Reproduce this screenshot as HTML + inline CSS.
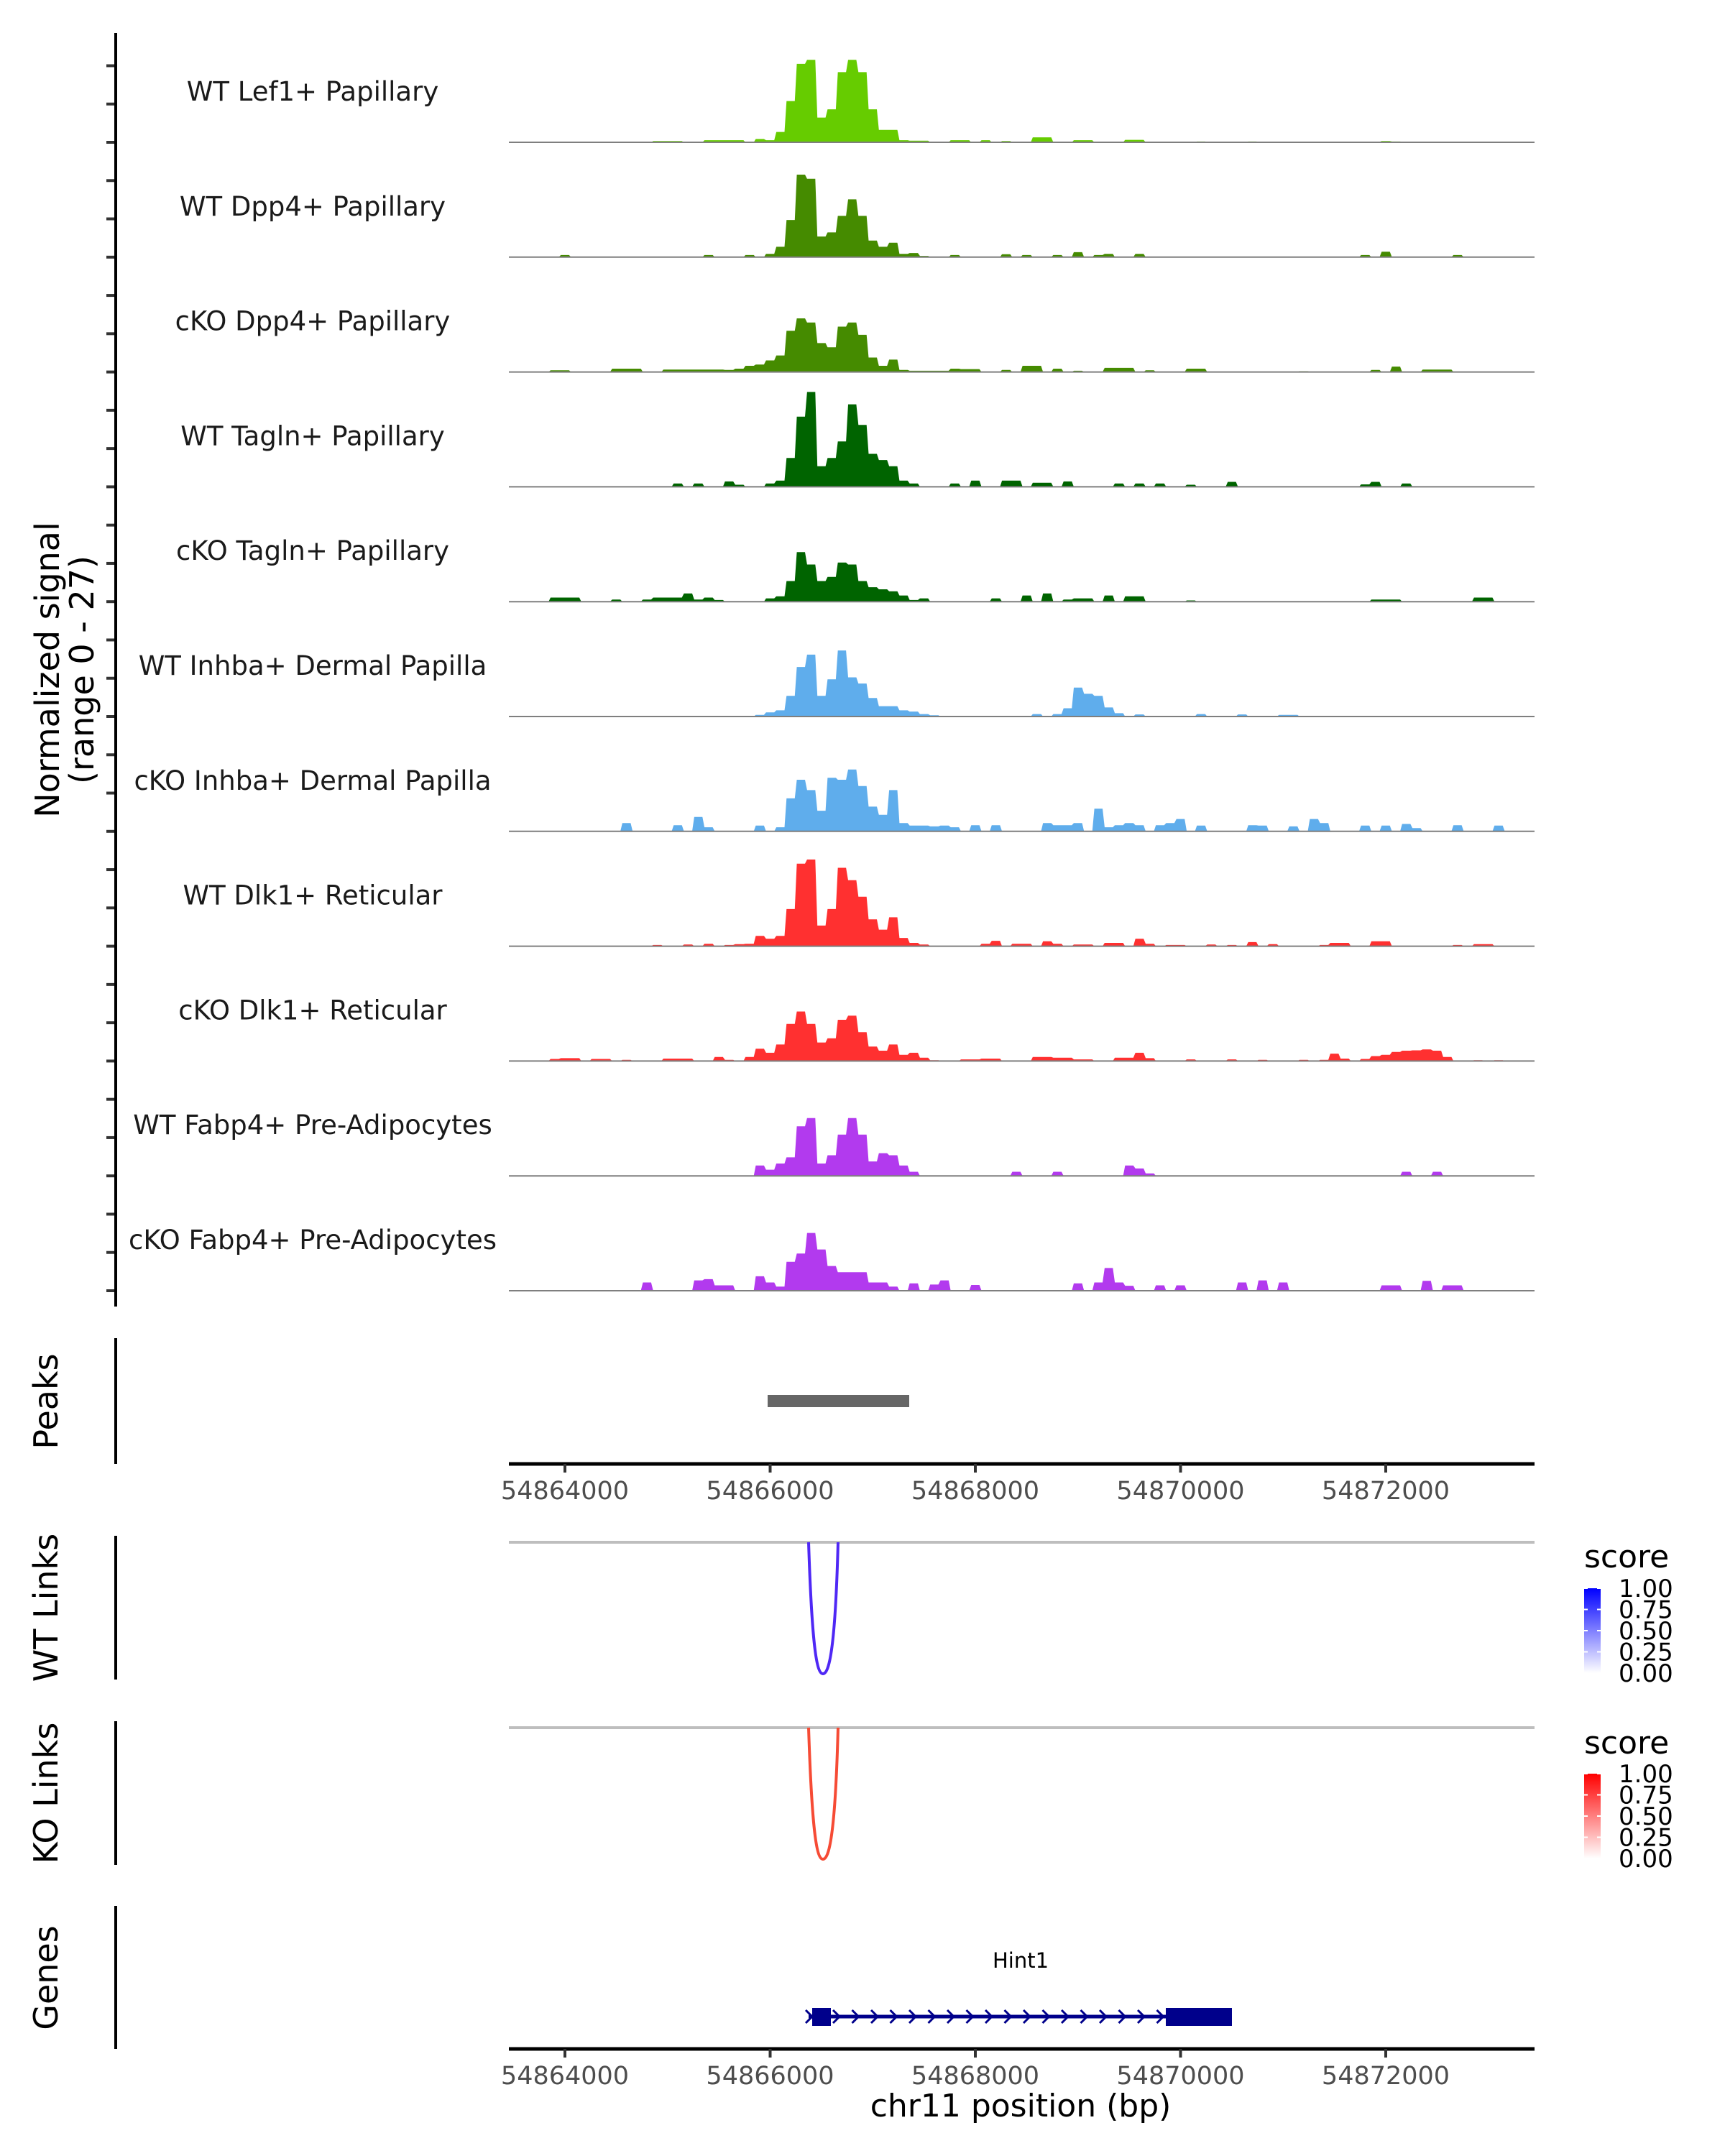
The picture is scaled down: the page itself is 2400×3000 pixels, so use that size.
<!DOCTYPE html>
<html><head><meta charset="utf-8"><style>
html,body{margin:0;padding:0;background:#fff;}
svg{display:block;}
text{font-family:"DejaVu Sans","Liberation Sans",sans-serif;}
</style></head><body>
<svg id="fig" width="2400" height="3000" viewBox="0 0 2400 3000" xmlns="http://www.w3.org/2000/svg">
<defs>
<linearGradient id="gBlue" x1="0" y1="1" x2="0" y2="0"><stop offset="0" stop-color="#ffffff"/><stop offset="1" stop-color="#0000ff"/></linearGradient>
<linearGradient id="gRed" x1="0" y1="1" x2="0" y2="0"><stop offset="0" stop-color="#ffffff"/><stop offset="1" stop-color="#ff0000"/></linearGradient>
</defs>
<g id="tracks"></g>
<g id="static">
  <text transform="translate(82,932) rotate(-90)" text-anchor="middle" font-size="46" fill="#000">Normalized signal</text>
  <text transform="translate(130,932) rotate(-90)" text-anchor="middle" font-size="46" fill="#000">(range 0 - 27)</text>
  <line x1="161" y1="46" x2="161" y2="1818" stroke="#000" stroke-width="4"/>
  <text transform="translate(80,1950) rotate(-90)" text-anchor="middle" font-size="46">Peaks</text>
  <line x1="161" y1="1862" x2="161" y2="2037" stroke="#000" stroke-width="4"/>
  <rect x="1068" y="1941" width="197" height="17" fill="#666"/>
  <text transform="translate(80,2237) rotate(-90)" text-anchor="middle" font-size="46">WT Links</text>
  <line x1="161" y1="2137" x2="161" y2="2337" stroke="#000" stroke-width="4"/>
  <line x1="708" y1="2146" x2="2135" y2="2146" stroke="#bebebe" stroke-width="4"/>
  <path d="M1125,2146 C1130,2300 1137,2329 1145,2329 C1153,2329 1162,2300 1166,2146" fill="none" stroke="#4f28f5" stroke-width="4"/>
  <text x="2204" y="2181" font-size="44">score</text>
  <rect x="2204" y="2210" width="23" height="118" fill="url(#gBlue)"/>
  <text transform="translate(80,2495) rotate(-90)" text-anchor="middle" font-size="46">KO Links</text>
  <line x1="161" y1="2395" x2="161" y2="2595" stroke="#000" stroke-width="4"/>
  <line x1="708" y1="2404" x2="2135" y2="2404" stroke="#bebebe" stroke-width="4"/>
  <path d="M1125,2404 C1130,2558 1137,2587 1145,2587 C1153,2587 1162,2558 1166,2404" fill="none" stroke="#f64b35" stroke-width="4"/>
  <text x="2204" y="2440" font-size="44">score</text>
  <rect x="2204" y="2468" width="23" height="118" fill="url(#gRed)"/>
  <text transform="translate(80,2752) rotate(-90)" text-anchor="middle" font-size="46">Genes</text>
  <line x1="161" y1="2652" x2="161" y2="2851" stroke="#000" stroke-width="4"/>
  <text x="1420" y="2738" text-anchor="middle" font-size="29">Hint1</text>
  <line x1="1125" y1="2806" x2="1714" y2="2806" stroke="#00008b" stroke-width="5"/>
  <rect x="1130" y="2794" width="26" height="25" fill="#00008b"/>
  <rect x="1622" y="2794" width="92" height="25" fill="#00008b"/>
  <g id="chev"></g>
  <text x="1420" y="2945" text-anchor="middle" font-size="44">chr11 position (bp)</text>
</g>
<g id="axes"></g>
<g id="legendlabels"></g>
</svg>
<script>
const binStart = 54863450;
const binSize = 100;
const tickValues = [54864000, 54866000, 54868000, 54870000, 54872000];
const tickLabels = ["54864000", "54866000", "54868000", "54870000", "54872000"];
const legendValues = [1.00, 0.75, 0.50, 0.25, 0.00];
const legendLabels = ["1.00", "0.75", "0.50", "0.25", "0.00"];
const trackNames = ["WT Lef1+ Papillary","WT Dpp4+ Papillary","cKO Dpp4+ Papillary","WT Tagln+ Papillary","cKO Tagln+ Papillary","WT Inhba+ Dermal Papilla","cKO Inhba+ Dermal Papilla","WT Dlk1+ Reticular","cKO Dlk1+ Reticular","WT Fabp4+ Pre-Adipocytes","cKO Fabp4+ Pre-Adipocytes"];
const trackColors = ["#66cc00","#458b00","#458b00","#006400","#006400","#5fadec","#5fadec","#ff3030","#ff3030","#b23aee","#b23aee"];
const lef1WT = [0,0,0,0,0,0.1,0,0,0,0, 0,0,0,0,0.3,0.3,0.3,0,0,0.5, 0.5,0.5,0.5,0,0.8,0.5,2.5,10,19,20, 6,8,17,20,17,8,3,3,0.5,0.4, 0.4,0,0,0.5,0.5,0,0.5,0,0.3,0, 0,1.2,1.2,0,0,0.5,0.5,0,0,0, 0.6,0.6,0,0,0,0,0,0.2,0,0, 0,0,0.2,0,0,0,0,0,0.1,0.1, 0.1,0.1,0.1,0.1,0.1,0.3,0.2,0.1,0.1,0, 0,0,0,0,0,0.1,0,0,0,0];
const dpp4WT = [0,0,0,0,0,0.5,0,0,0,0, 0,0,0,0,0,0,0,0,0,0.5, 0,0,0,0.5,0,0.8,2.5,9,20,19, 5,6,10,14,10,4,2.5,3.5,0.8,1, 0.3,0,0,0.5,0,0,0,0,0.7,0, 0.5,0,0,0.5,0,1.2,0,0.5,0.8,0, 0,0.8,0,0,0,0,0,0,0,0, 0,0,0,0,0,0,0,0,0,0, 0,0,0,0.5,0,1.3,0,0,0,0, 0,0,0.5,0,0,0,0,0,0,0];
const dpp4KO = [0,0,0,0,0.4,0.4,0,0,0,0, 0.8,0.8,0.8,0,0,0.6,0.6,0.6,0.6,0.6, 0.6,0.5,0.8,1.5,1.8,2.8,4,10,13,12, 7,6,11,12,9,3.5,1.5,3,0.5,0.3, 0.3,0.3,0.3,0.8,0.7,0.7,0,0,0.5,0, 1.5,1.5,0,0.8,0,0.3,0,0,1,1, 1,0,0.4,0,0,0,0.8,0.8,0,0, 0,0,0,0,0,0,0,0.2,0,0, 0,0,0,0,0.5,0,1.3,0,0,0.6, 0.6,0.6,0,0,0,0,0,0,0,0];
const taglnWT = [0,0,0,0,0,0,0,0,0,0, 0,0,0,0,0,0,0.8,0,0.8,0, 0,1.3,0.5,0,0,0.8,1.5,7,17,23, 5,7,11,20,15,8,6.5,5,1.5,0.8, 0,0,0,0.8,0,1.5,0,0,1.5,1.5, 0,1,1,0,1.3,0,0,0,0,0.8, 0,0.8,0,0.8,0,0,0.5,0,0,0, 1.2,0,0,0,0,0,0,0,0,0, 0,0,0,0.6,1.2,0,0,0.8,0,0, 0,0,0,0,0,0,0,0,0,0];
const taglnKO = [0,0,0,0,1,1,1,0,0,0, 0.5,0,0,0.5,1,1,1,2,0.5,1, 0.4,0,0,0,0,0.8,1.3,5,12,9, 5,6,9.5,9,5,3.5,3,2.5,1.5,0.4, 0.8,0,0,0,0,0,0,0.8,0,0, 1.5,0,2,0,0.5,0.8,0.8,0,1.5,0, 1.3,1.3,0,0,0,0,0.3,0,0,0, 0,0,0,0,0,0,0,0,0,0, 0,0,0,0,0.5,0.5,0.5,0,0,0, 0,0,0,0,1,1,0,0,0,0];
const inhbaWT = [0,0,0,0,0,0,0,0,0,0, 0,0,0,0,0,0,0,0,0,0, 0,0,0,0,0.4,1,1.5,5,12,15, 5,9,16,9.5,8,4.5,2.5,2.5,1.5,1.2, 0.6,0.3,0,0,0,0,0,0,0,0, 0,0.6,0,0.6,2,7,5.5,5,2.2,0.8, 0,0.5,0,0,0,0,0,0.6,0,0, 0,0.5,0,0,0,0.4,0.4,0,0,0, 0,0,0,0,0,0,0,0,0,0, 0,0,0,0,0,0,0,0,0,0];
const inhbaKO = [0,0,0,0,0,0,0,0,0,0, 0,2,0,0,0,0,1.5,0,3.5,1, 0,0,0,0,1.4,0,1,8,12.5,10, 5,13,12.5,15,11,6,4,10,2,1.4, 1.4,1.2,1.4,1,0,1.5,0,1.5,0,0, 0,0,2,1.5,1.5,2,0,5.5,1,1.5, 2,1.5,0,1.5,2,3,0,1.4,0,0, 0,0,1.5,1.4,0,0,1.2,0,3,2, 0,0,0,1.4,0,1.4,0,1.8,0.8,0, 0,0,1.5,0,0,0,1.4,0,0,0];
const dlk1WT = [0,0,0,0,0,0,0,0,0,0, 0,0,0,0,0.3,0,0,0.4,0,0.6, 0,0.3,0.5,0.6,2.5,1.8,2.5,9,20,21, 5,9,19,16,12,6.5,4,7,2,0.8, 0.4,0,0,0,0,0,0.6,1.3,0,0.6, 0.6,0,1.2,0.6,0,0.4,0.4,0,0.8,0.8, 0,1.8,0.6,0,0.3,0.3,0,0,0.4,0, 0.3,0,1,0,0.5,0,0,0,0,0.3, 0.8,0.8,0,0,1.2,1.2,0,0,0,0, 0,0,0.3,0,0.5,0.5,0,0,0,0];
const dlk1KO = [0,0,0,0,0.5,0.7,0.7,0,0.5,0.5, 0,0.3,0,0,0,0.6,0.6,0.6,0,0, 1,0.3,0,1,3,2,4,9,12,9, 4.5,5.5,10,11,7,3.5,2.5,4,1.5,2, 0.8,0.2,0,0,0.4,0.4,0.6,0.6,0,0, 0,1,1,0.8,0.8,0.4,0.4,0,0,0.8, 0.8,2,0.7,0,0,0,0.4,0,0,0, 0.4,0,0,0.3,0,0,0,0.3,0,0.3, 1.8,0.6,0,0.5,1.2,1.5,2.2,2.5,2.6,2.8, 2.5,1,0,0,0.2,0,0.2,0,0,0];
const fabp4WT = [0,0,0,0,0,0,0,0,0,0, 0,0,0,0,0,0,0,0,0,0, 0,0,0,0,2.5,1.5,3,4.5,12,14, 3,5,10,14,10,3.5,5.5,5,2.5,1, 0,0,0,0,0,0,0,0,0,1, 0,0,0,1,0,0,0,0,0,0, 2.5,1.8,0.6,0,0,0,0,0,0,0, 0,0,0,0,0,0,0,0,0,0, 0,0,0,0,0,0,0,1,0,0, 1,0,0,0,0,0,0,0,0,0];
const fabp4KO = [0,0,0,0,0,0,0,0,0,0, 0,0,0,2,0,0,0,0,2.5,2.8, 1.3,1.3,0,0,3.5,2,1,7,9,14, 10,6,4.5,4.5,4.5,2,2,1,0,1.8, 0,1.5,2.5,0,0,1.4,0,0,0,0, 0,0,0,0,0,1.8,0,2,5.5,2, 1.2,0,0,1.3,0,1.3,0,0,0,0, 0,2,0,2.5,0,2,0,0,0,0, 0,0,0,0,0,1.3,1.3,0,0,2.4, 0,1.3,1.3,0,0,0,0,0,0,0];
const trackValues = [lef1WT, dpp4WT, dpp4KO, taglnWT, taglnKO, inhbaWT, inhbaKO, dlk1WT, dlk1KO, fabp4WT, fabp4KO];

const NS = "http://www.w3.org/2000/svg";
const X0 = 786, PXBP = 0.14275, PLOT_L = 708, PLOT_R = 2135;
function xScale(bp){ return X0 + (bp - 54864000) * PXBP; }
const BASE0 = 198, TRACK_STEP = 159.8, UNIT = 155/27;
function yScale(k, v){ return BASE0 + k*TRACK_STEP - v*UNIT; }
function mk(tag, attrs, parent){ const e=document.createElementNS(NS,tag); for(const k in attrs) e.setAttribute(k,attrs[k]); parent.appendChild(e); return e; }

const tracks = document.getElementById('tracks');
for (let t = 0; t < 33; t++) {
  const y = BASE0 - 2*TRACK_STEP/3 + t*TRACK_STEP/3;
  const tk = mk('line',{x1:148,x2:161,y1:y,y2:y,stroke:'#333','stroke-width':4},tracks);
  
  
}
trackValues.forEach((vals, k) => {
  const base = yScale(k, 0);
  const g = mk('g',{},tracks);
  
  
  let d = 'M' + xScale(binStart).toFixed(1) + ',' + base;
  vals.forEach((v, i) => {
    const xa = xScale(binStart + i*binSize + 10), xb = xScale(binStart + (i+1)*binSize - 10);
    d += ' L' + xa.toFixed(1) + ',' + yScale(k, v).toFixed(1) + ' L' + xb.toFixed(1) + ',' + yScale(k, v).toFixed(1);
  });
  d += ' L' + xScale(binStart + vals.length*binSize).toFixed(1) + ',' + base + ' Z';
  const area = mk('path',{d:d, fill:trackColors[k]},g);
  
  
  const bl = mk('line',{x1:PLOT_L,x2:PLOT_R,y1:base,y2:base,stroke:'#7f7f7f','stroke-width':2},g);
  
  
  const lb = mk('text',{x:435,y:base-71+13,'text-anchor':'middle','font-size':37,fill:'#1a1a1a'},g);
  lb.textContent = trackNames[k];
  
  
});

const axes = document.getElementById('axes');
[2037, 2851].forEach((ay) => {
  const ln = mk('line',{x1:PLOT_L,x2:PLOT_R,y1:ay,y2:ay,stroke:'#000','stroke-width':5},axes);
  
  
  tickValues.forEach((tv, i) => {
    const x = xScale(tv);
    const tk = mk('line',{x1:x,x2:x,y1:ay,y2:ay+12,stroke:'#333','stroke-width':4},axes);
    
    
    const tl = mk('text',{x:x,y:ay+49,'text-anchor':'middle','font-size':35,fill:'#4d4d4d'},axes);
    tl.textContent = tickLabels[i];
    
    
  });
});

const chev = document.getElementById('chev');
for (let x = 1164; x < 1619; x += 26.5) {
  const c = mk('path',{d:'M'+(x-5)+',2797 L'+(x+4)+',2806 L'+(x-5)+',2815',fill:'none',stroke:'#00008b','stroke-width':3},chev);
  
  
}
const c0 = mk('path',{d:'M1121,2797 L1130,2806 L1121,2815',fill:'none',stroke:'#00008b','stroke-width':3},chev);



const ll = document.getElementById('legendlabels');
[[2210,2328],[2468,2586]].forEach(([top,bot]) => {
  legendValues.forEach((v, i) => {
    const y = bot - v*(bot-top);
    const tk = mk('line',{x1:2204,x2:2209,y1:y,y2:y,stroke:'#fff','stroke-width':2},ll);
    
    
    const tk2 = mk('line',{x1:2222,x2:2227,y1:y,y2:y,stroke:'#fff','stroke-width':2},ll);
    
    
    const t = mk('text',{x:2252,y:y+12,'font-size':34,fill:'#000'},ll);
    t.textContent = legendLabels[i];
    
    
  });
});
</script>
</body></html>
